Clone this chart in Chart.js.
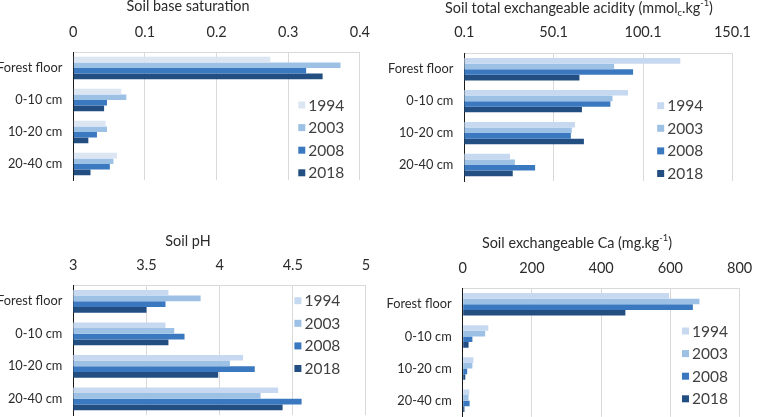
<!DOCTYPE html>
<html>
<head>
<meta charset="utf-8">
<script src="https://cdn.jsdelivr.net/npm/chart.js@4/dist/chart.umd.min.js"></script>
<style>
  html, body { margin: 0; padding: 0; background: #fff; }
  body { width: 763px; height: 417px; position: relative; overflow: hidden; }
  .box { position: absolute; }
</style>
</head>
<body>
<div class="box" style="left:0;top:0;width:381px;height:230px"><canvas id="c1"></canvas></div>
<div class="box" style="left:381px;top:0;width:382px;height:230px"><canvas id="c2"></canvas></div>
<div class="box" style="left:0;top:230px;width:381px;height:230px"><canvas id="c3"></canvas></div>
<div class="box" style="left:381px;top:230px;width:382px;height:230px"><canvas id="c4"></canvas></div>
<script>
// ---------------- data ----------------
const categories = ['Forest floor', '0-10 cm', '10-20 cm', '20-40 cm'];
const years = ['1994', '2003', '2008', '2018'];

const baseSat1994 = [0.275, 0.067, 0.045, 0.061];
const baseSat2003 = [0.373, 0.074, 0.047, 0.056];
const baseSat2008 = [0.325, 0.047, 0.033, 0.051];
const baseSat2018 = [0.348, 0.043, 0.021, 0.024];
const baseSatTicks = [0, 0.1, 0.2, 0.3, 0.4];
const baseSatTickLabels = ['0', '0.1', '0.2', '0.3', '0.4'];

const acid1994 = [120.9, 91.7, 62.0, 25.7];
const acid2003 = [83.9, 83.0, 60.2, 28.4];
const acid2008 = [94.5, 81.8, 59.7, 39.7];
const acid2018 = [64.5, 65.9, 67.0, 27.2];
const acidTicks = [0.1, 50.1, 100.1, 150.1];
const acidTickLabels = ['0.1', '50.1', '100.1', '150.1'];

const pH1994 = [3.65, 3.63, 4.16, 4.40];
const pH2003 = [3.87, 3.69, 4.07, 4.28];
const pH2008 = [3.63, 3.76, 4.24, 4.56];
const pH2018 = [3.50, 3.65, 3.99, 4.43];
const pHTicks = [3, 3.5, 4, 4.5, 5];
const pHTickLabels = ['3', '3.5', '4', '4.5', '5'];

const ca1994 = [596, 74, 31, 19];
const ca2003 = [684, 65, 28, 17];
const ca2008 = [665, 28, 13, 20];
const ca2018 = [470, 17, 7.5, 5];
const caTicks = [0, 200, 400, 600, 800];
const caTickLabels = ['0', '200', '400', '600', '800'];

// ---------------- style ----------------
const FONT = 'Lato, "Open Sans", sans-serif';
const TEXT = '#2b2b2b';
const colorsA = ['#dce6f2', '#9dc0e5', '#3a78c0', '#224e82'];
const colorsB = ['#c6d9f0', '#9dc0e5', '#3a78c0', '#224e82'];

// rich-text title + in-plot legend plugin
const decorPlugin = {
  id: 'decor',
  afterDraw(chart, args, opts) {
    const ctx = chart.ctx;
    const ca = chart.chartArea;
    ctx.save();
    // title
    const fs = opts.titleSize;
    const segs = opts.title;
    const sizeOf = (s) => (s.sub || s.sup ? fs * 0.65 : fs);
    let total = 0;
    segs.forEach(s => { ctx.font = sizeOf(s) + 'px ' + FONT; total += ctx.measureText(s.t).width; });
    let x = opts.titleX - total / 2;
    ctx.fillStyle = TEXT;
    ctx.textBaseline = 'middle';
    ctx.textAlign = 'left';
    segs.forEach(s => {
      ctx.font = sizeOf(s) + 'px ' + FONT;
      let y = opts.titleY;
      if (s.sub) y += fs * 0.3;
      if (s.sup) y -= fs * 0.35;
      ctx.fillText(s.t, x, y);
      x += ctx.measureText(s.t).width;
    });
    // legend
    const lx = ca.right - opts.legendRight;
    let ly = ca.top + opts.legendTop;
    ctx.font = opts.legendSize + 'px ' + FONT;
    chart.data.datasets.forEach(ds => {
      ctx.fillStyle = ds.backgroundColor;
      ctx.fillRect(lx, ly - 3.5, 7, 7);
      ctx.fillStyle = '#404040';
      ctx.fillText(ds.label, lx + 10, ly + 0.5);
      ly += opts.legendStep;
    });
    ctx.restore();
  }
};

function makeChart(id, series, colors, ticks, tickLabels, min, max, lay) {
  const datasets = series.map((arr, i) => ({
    label: years[i],
    data: arr,
    backgroundColor: colors[i],
    borderWidth: 0,
    categoryPercentage: 0.7,
    barPercentage: 1.0
  }));
  return new Chart(document.getElementById(id), {
    type: 'bar',
    data: { labels: categories, datasets },
    plugins: [decorPlugin],
    options: {
      indexAxis: 'y',
      responsive: true,
      maintainAspectRatio: false,
      animation: false,
      layout: { padding: { left: 0, top: 0, right: lay.padRight, bottom: lay.padBottom } },
      plugins: {
        legend: { display: false },
        title: { display: false },
        tooltip: { enabled: false },
        decor: {
          title: lay.title, titleSize: 14.4, titleX: lay.titleX, titleY: lay.titleY,
          legendRight: lay.legendRight, legendTop: lay.legendTop, legendStep: 22.6, legendSize: 15.5
        }
      },
      scales: {
        x: {
          position: 'top',
          min: min, max: max,
          afterBuildTicks: (axis) => { axis.ticks = ticks.map(v => ({ value: v })); },
          afterFit: (axis) => { axis.height = lay.axisH; },
          ticks: {
            padding: lay.tickPad,
            color: TEXT,
            font: { family: FONT, size: 14.5 },
            maxRotation: 0,
            callback: (v) => { const i = ticks.indexOf(v); return i >= 0 ? tickLabels[i] : ''; }
          },
          grid: { color: '#d9d9d9', lineWidth: 1, drawTicks: false },
          border: { display: true, color: '#d9d9d9', width: 1 }
        },
        y: {
          afterFit: (axis) => { axis.width = lay.axisW; },
          ticks: { padding: 11, color: TEXT, font: { family: FONT, size: 12.8 } },
          grid: { display: false, drawTicks: false },
          border: { display: true, color: '#1a1a1a', width: 1 }
        }
      }
    }
  });
}

makeChart('c1', [baseSat1994, baseSat2003, baseSat2008, baseSat2018], colorsA,
  baseSatTicks, baseSatTickLabels, 0, 0.4,
  { padRight: 17.7, padBottom: 50, axisH: 52, axisW: 73.3, tickPad: 11,
    title: [{ t: 'Soil base saturation' }], titleX: 188, titleY: 6,
    legendRight: 61.6, legendTop: 53 });

makeChart('c2', [acid1994, acid2003, acid2008, acid2018], colorsB,
  acidTicks, acidTickLabels, 0.1, 150.1,
  { padRight: 16, padBottom: 49, axisH: 53.3, axisW: 83.3, tickPad: 12,
    title: [{ t: 'Soil total exchangeable acidity (mmol' }, { t: 'c', sub: true }, { t: '.kg' }, { t: '-1', sup: true }, { t: ')' }],
    titleX: 198, titleY: 8.3,
    legendRight: 75.3, legendTop: 52.4 });

makeChart('c3', [pH1994, pH2003, pH2008, pH2018], colorsB,
  pHTicks, pHTickLabels, 3, 5,
  { padRight: 12.7, padBottom: 45, axisH: 55, axisW: 73.3, tickPad: 10.8,
    title: [{ t: 'Soil pH' }], titleX: 188, titleY: 11.7,
    legendRight: 71.6, legendTop: 15.7 });

makeChart('c4', [ca1994, ca2003, ca2008, ca2018], colorsB,
  caTicks, caTickLabels, 0, 800,
  { padRight: 12.7, padBottom: 43.2, axisH: 58.3, axisW: 81.7, tickPad: 10.8,
    title: [{ t: 'Soil exchangeable Ca (mg.kg' }, { t: '-1', sup: true }, { t: ')' }],
    titleX: 196, titleY: 13.3,
    legendRight: 57.6, legendTop: 42.7 });
</script>
</body>
</html>
